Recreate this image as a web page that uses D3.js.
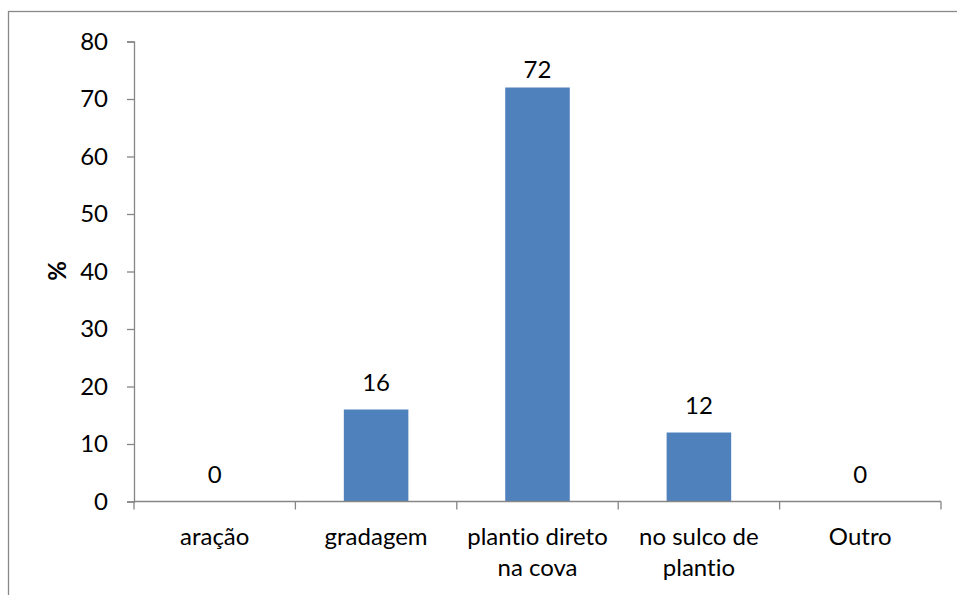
<!DOCTYPE html>
<html><head><meta charset="utf-8">
<script src="https://cdn.jsdelivr.net/npm/d3@7"></script>
<style>body{margin:0;background:#fff}svg{display:block}text{font-family:Lato,"Open Sans",sans-serif;fill:#000;font-variant-ligatures:none;font-feature-settings:"liga" 0,"clig" 0}</style>
</head><body>
<script>
const categories = [["aração"], ["gradagem"], ["plantio direto", "na cova"], ["no sulco de", "plantio"], ["Outro"]];
const values = [0, 16, 72, 12, 0];
const yTicks = [0, 10, 20, 30, 40, 50, 60, 70, 80];
const yLabel = "%";

const W = 957, H = 595;
const svg = d3.select("body").append("svg").attr("width", W).attr("height", H);
const fs = 24;

// outer frame
svg.append("rect").attr("x", 8.5).attr("y", 11.5).attr("width", W + 20).attr("height", H + 20)
  .attr("fill", "none").attr("stroke", "#898989").attr("stroke-width", 1.3);

const x0 = 134, x1 = 941, yTop = 41.5, yBot = 501.5;
const keys = categories.map((c, i) => i);
const x = d3.scaleBand().domain(keys).range([x0, x1]).padding(0);
const y = d3.scaleLinear().domain([0, 80]).range([yBot, yTop]);
const barW = x.bandwidth() * 0.4;

// bars
svg.selectAll("rect.bar").data(values).enter().append("rect").attr("class", "bar")
  .attr("x", (d, i) => x(i) + (x.bandwidth() - barW) / 2)
  .attr("y", d => y(d)).attr("width", barW).attr("height", d => yBot - y(d))
  .attr("fill", "#4F81BD");

// y axis
const yAxis = svg.append("g").attr("transform", `translate(${x0},0)`)
  .call(d3.axisLeft(y).tickValues(yTicks).tickSize(7).tickPadding(19).tickFormat(d3.format("d")));
yAxis.select(".domain").attr("stroke", "#868686").attr("stroke-width", 1.3);
yAxis.selectAll(".tick line").attr("stroke", "#868686").attr("stroke-width", 1.3);
yAxis.selectAll(".tick text").attr("font-size", fs).attr("font-family", "Lato,'Open Sans',sans-serif").attr("fill", "#000");

// x axis (lines + ticks at band boundaries)
const gx = svg.append("g");
gx.append("line").attr("x1", x0).attr("x2", x1).attr("y1", yBot).attr("y2", yBot)
  .attr("stroke", "#868686").attr("stroke-width", 1.3);
const bounds = keys.map(k => x(k)).concat([x1]);
gx.selectAll("line.t").data(bounds).enter().append("line").attr("class", "t")
  .attr("x1", d => d).attr("x2", d => d).attr("y1", yBot).attr("y2", yBot + 8)
  .attr("stroke", "#868686").attr("stroke-width", 1.3);

// category labels
const cl = svg.selectAll("text.cat").data(categories).enter().append("text").attr("class", "cat")
  .attr("text-anchor", "middle").attr("font-size", fs)
  .attr("x", (d, i) => x(i) + x.bandwidth() / 2).attr("y", 545);
cl.selectAll("tspan").data(d => d).enter().append("tspan")
  .attr("x", function () { return d3.select(this.parentNode).attr("x"); })
  .attr("dy", (d, j) => j === 0 ? 0 : 30.7).text(d => d);

// value labels
svg.selectAll("text.val").data(values).enter().append("text").attr("class", "val")
  .attr("text-anchor", "middle").attr("font-size", fs)
  .attr("x", (d, i) => x(i) + x.bandwidth() / 2)
  .attr("y", d => Math.max(y(d) - 19, 78)).text(d => d);

// y label
svg.append("text").attr("transform", "translate(66,271) rotate(-90)")
  .attr("text-anchor", "middle").attr("font-size", fs).attr("font-weight", "bold").text(yLabel);
</script>
</body></html>
